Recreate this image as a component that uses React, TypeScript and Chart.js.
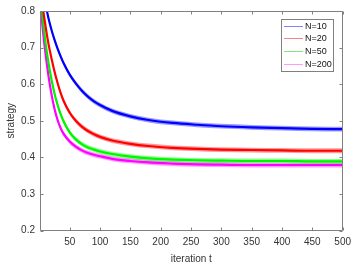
import React, { useEffect, useRef } from "react";
import { Chart, registerables } from "chart.js";

Chart.register(...registerables);

// ---- data ----
const iterations = [1, 5, 10, 15, 20, 25, 30, 35, 40, 50, 60, 70, 80, 90, 100, 120, 150, 180, 220, 260, 300, 350, 400, 450, 500];
const strategyN10 = [0.95, 0.885, 0.822, 0.78, 0.748, 0.721, 0.697, 0.676, 0.657, 0.626, 0.602, 0.582, 0.566, 0.553, 0.543, 0.527, 0.512, 0.502, 0.494, 0.489, 0.485, 0.482, 0.48, 0.478, 0.477];
const strategyN20 = [0.9, 0.82, 0.76, 0.71, 0.67, 0.634, 0.603, 0.576, 0.554, 0.522, 0.5, 0.484, 0.472, 0.463, 0.456, 0.446, 0.437, 0.431, 0.426, 0.423, 0.421, 0.42, 0.419, 0.418, 0.418];
const strategyN50 = [0.88, 0.79, 0.715, 0.658, 0.612, 0.574, 0.543, 0.518, 0.498, 0.468, 0.449, 0.436, 0.427, 0.421, 0.416, 0.409, 0.402, 0.397, 0.394, 0.392, 0.391, 0.39, 0.39, 0.389, 0.389];
const strategyN200 = [0.85, 0.76, 0.685, 0.622, 0.572, 0.532, 0.502, 0.48, 0.464, 0.443, 0.429, 0.419, 0.412, 0.407, 0.403, 0.396, 0.39, 0.386, 0.383, 0.381, 0.38, 0.379, 0.379, 0.379, 0.379];
const seriesNames = ["N=10", "N=20", "N=50", "N=200"];
const xTickValues = [50, 100, 150, 200, 250, 300, 350, 400, 450, 500];
const yTickValues = [0.2, 0.3, 0.4, 0.5, 0.6, 0.7, 0.8];
const bandHalfWidth = 0.0065;

// ---- styles ----
const lineColors = ["#0000ff", "#ff0000", "#00ee00", "#ff00ff"];
const bandColors = ["rgba(0,0,255,0.4)", "rgba(255,0,0,0.4)", "rgba(0,255,0,0.45)", "rgba(255,0,255,0.4)"];
const legendColors = ["#7f7fff", "#ff8080", "#80e880", "#ff99ff"];
const axisColor = "#808080";
const textColor = "#333333";
const fontFamily = "'Liberation Sans', Arial, sans-serif";

const allSeries = [strategyN10, strategyN20, strategyN50, strategyN200];

function toPoints(values: number[], offset: number) {
  return values.map((v, i) => ({ x: iterations[i], y: v + offset }));
}

const boxPlugin = {
  id: "matlabBox",
  afterDatasetsDraw(chart: any) {
    const { ctx, chartArea: a, scales } = chart;
    const xs = scales.x;
    const ys = scales.y;
    const l = Math.floor(a.left) + 0.5;
    const r = Math.floor(a.right) + 0.5;
    const t = Math.floor(a.top) + 0.5;
    const b = Math.floor(a.bottom) + 0.5;
    ctx.save();
    ctx.strokeStyle = axisColor;
    ctx.lineWidth = 1;
    ctx.beginPath();
    ctx.rect(l, t, r - l, b - t);
    ctx.stroke();
    const tl = 3;
    ctx.beginPath();
    xTickValues.forEach((v) => {
      const px = Math.round(xs.getPixelForValue(v)) + 0.5;
      ctx.moveTo(px, b);
      ctx.lineTo(px, b - tl);
      ctx.moveTo(px, t);
      ctx.lineTo(px, t + tl);
    });
    yTickValues.forEach((v) => {
      const py = Math.round(ys.getPixelForValue(v)) + 0.5;
      ctx.moveTo(l, py);
      ctx.lineTo(l + tl, py);
      ctx.moveTo(r, py);
      ctx.lineTo(r - tl, py);
    });
    ctx.stroke();
    ctx.restore();
  },
};

const legendPlugin = {
  id: "insideLegend",
  afterDraw(chart: any) {
    const { ctx } = chart;
    const bx = 281.5, by = 19.5, bw = 52, bh = 52;
    ctx.save();
    ctx.fillStyle = "#ffffff";
    ctx.fillRect(bx, by, bw, bh);
    ctx.strokeStyle = axisColor;
    ctx.lineWidth = 1;
    ctx.strokeRect(bx, by, bw, bh);
    ctx.font = "9px " + fontFamily;
    ctx.textBaseline = "middle";
    ctx.textAlign = "left";
    seriesNames.forEach((name, i) => {
      const yy = Math.round(25.5 + i * 12.7) + 0.5;
      ctx.strokeStyle = legendColors[i];
      ctx.beginPath();
      ctx.moveTo(284, yy);
      ctx.lineTo(303, yy);
      ctx.stroke();
      ctx.fillStyle = "#111111";
      ctx.fillText(name, 305, yy);
    });
    ctx.restore();
  },
};

export default function App() {
  const canvasRef = useRef<HTMLCanvasElement | null>(null);

  useEffect(() => {
    if (!canvasRef.current) return;
    const datasets: any[] = [];
    allSeries.forEach((values, i) => {
      datasets.push({
        label: seriesNames[i] + " upper",
        data: toPoints(values, bandHalfWidth),
        borderWidth: 0,
        pointRadius: 0,
        fill: false,
        cubicInterpolationMode: "monotone",
        clip: 0,
      });
      datasets.push({
        label: seriesNames[i] + " lower",
        data: toPoints(values, -bandHalfWidth),
        borderWidth: 0,
        pointRadius: 0,
        fill: "-1",
        backgroundColor: bandColors[i],
        cubicInterpolationMode: "monotone",
        clip: 0,
      });
      datasets.push({
        label: seriesNames[i],
        data: toPoints(values, 0),
        borderColor: lineColors[i],
        borderWidth: 2.2,
        pointRadius: 0,
        fill: false,
        cubicInterpolationMode: "monotone",
        clip: 0,
      });
    });

    const chart = new Chart(canvasRef.current, {
      type: "line",
      data: { datasets },
      options: {
        animation: false,
        responsive: false,
        events: [],
        layout: { padding: { left: 0, top: 10, right: 14, bottom: 0 } },
        plugins: {
          legend: { display: false },
          tooltip: { enabled: false },
        },
        scales: {
          x: {
            type: "linear",
            min: 1,
            max: 500,
            grid: { display: false, drawTicks: false },
            border: { display: false },
            afterBuildTicks: (scale: any) => {
              scale.ticks = xTickValues.map((v) => ({ value: v }));
            },
            afterFit: (scale: any) => {
              scale.height = 37.5;
            },
            ticks: {
              autoSkip: false,
              maxRotation: 0,
              padding: 6,
              color: textColor,
              font: { family: fontFamily, size: 10 },
              callback: (v: any) => String(v),
            },
            title: {
              display: true,
              text: "iteration t",
              color: textColor,
              font: { family: fontFamily, size: 10 },
              padding: { top: 0, bottom: 3 },
            },
          },
          y: {
            type: "linear",
            min: 0.2,
            max: 0.8,
            grid: { display: false, drawTicks: false },
            border: { display: false },
            afterBuildTicks: (scale: any) => {
              scale.ticks = yTickValues.map((v) => ({ value: v }));
            },
            afterFit: (scale: any) => {
              scale.width = 40;
            },
            ticks: {
              autoSkip: false,
              padding: 5,
              color: textColor,
              font: { family: fontFamily, size: 10 },
              callback: (v: any) => Number(v).toFixed(1),
            },
            title: {
              display: true,
              text: "strategy",
              color: textColor,
              font: { family: fontFamily, size: 10 },
              padding: { top: 5, bottom: 0 },
            },
          },
        },
      },
      plugins: [boxPlugin, legendPlugin],
    });
    return () => chart.destroy();
  }, []);

  return (
    <div style={{ position: "fixed", left: 0, top: 0, width: 357, height: 268, background: "#ffffff" }}>
      <canvas ref={canvasRef} width={357} height={268} style={{ display: "block" }} />
    </div>
  );
}
